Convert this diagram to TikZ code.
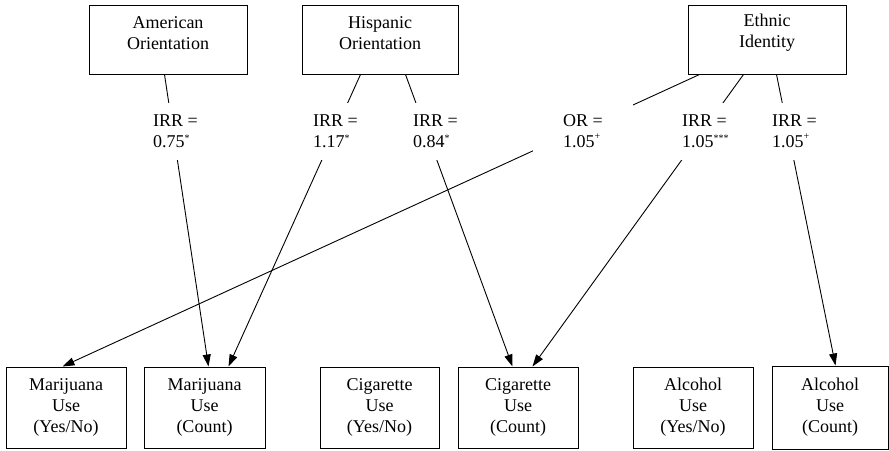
\documentclass[tikz,border=0pt]{standalone}
\usepackage{fontspec}
\setmainfont{Liberation Serif}
\usetikzlibrary{arrows.meta}
\newcommand\supmark[2]{\raisebox{#1}{\fontsize{10}{10}\selectfont #2}}
\begin{document}
\begin{tikzpicture}[x=1pt,y=-1pt,
 every node/.style={font=\fontsize{18}{21}\selectfont},
 box/.style={draw,line width=1pt,inner sep=0pt},
 topbox/.style={box,minimum width=158pt,minimum height=69pt},
 botbox/.style={box,minimum width=120pt,minimum height=81pt,align=center},
 boxtext/.style={align=center,inner sep=0pt},
 coef/.style={fill=white,align=left,inner xsep=12pt,inner ysep=12pt,anchor=west},
 link/.style={line width=0.9pt},
 arr/.style={link,-{Triangle[length=12pt,width=8pt]}}]
\useasboundingbox (0,0) rectangle (889,450);

% top boxes
\node[topbox] (am) at (168,39.5) {};
\node[boxtext] (amt) at (168,33) {American\\Orientation};
\node[topbox,minimum width=156pt] (hi) at (380,39.5) {};
\node[boxtext] (hit) at (380,33) {Hispanic\\Orientation};
\node[topbox] (et) at (767,39.5) {};
\node[boxtext] (ett) at (767,33) {Ethnic\\Identity};

% bottom boxes
\node[botbox] (my) at (66,407.5) {Marijuana\\Use\\(Yes/No)};
\node[botbox,minimum width=121pt] (mc) at (204.5,407.5) {Marijuana\\Use\\(Count)};
\node[botbox,minimum width=119pt] (cy) at (379.5,407.5) {Cigarette\\Use\\(Yes/No)};
\node[botbox] (cc) at (518,407.5) {Cigarette\\Use\\(Count)};
\node[botbox] (ay) at (693,407.5) {Alcohol\\Use\\(Yes/No)};
\node[botbox,minimum width=116pt,minimum height=83pt] (ac) at (830,407.5) {Alcohol\\Use\\(Count)};

% connectors
\draw[arr] ([xshift=76pt]am.south west) -- ([xshift=65pt]mc.north west);
\draw[arr] ([xshift=59pt]hi.south west) -- ([xshift=85pt]mc.north west);
\draw[arr] ([xshift=104pt]hi.south west) -- ([xshift=55pt]cc.north west);
\draw[arr] ([xshift=12pt]et.south west) -- ([xshift=57pt]my.north west);
\draw[arr] ([xshift=56pt]et.south west) -- ([xshift=75pt]cc.north west);
\draw[arr] ([xshift=89pt]et.south west) -- ([xshift=64pt]ac.north west);

% coefficient labels
\node[coef] (c1) at (141,131.5) {IRR =\\0.75\supmark{6pt}{*}};
\node[coef] (c2) at (301,131.5) {IRR =\\1.17\supmark{6pt}{*}};
\node[coef] (c3) at (401,131.5) {IRR =\\0.84\supmark{6pt}{*}};
\node[coef,inner xsep=30pt] (c4) at (533,131.5) {OR =\\1.05\supmark{8pt}{+}};
\node[coef] (c5) at (670,131.5) {IRR =\\1.05\supmark{6pt}{***}};
\node[coef] (c6) at (760,131.5) {IRR =\\1.05\supmark{8pt}{+}};
\end{tikzpicture}
\end{document}
